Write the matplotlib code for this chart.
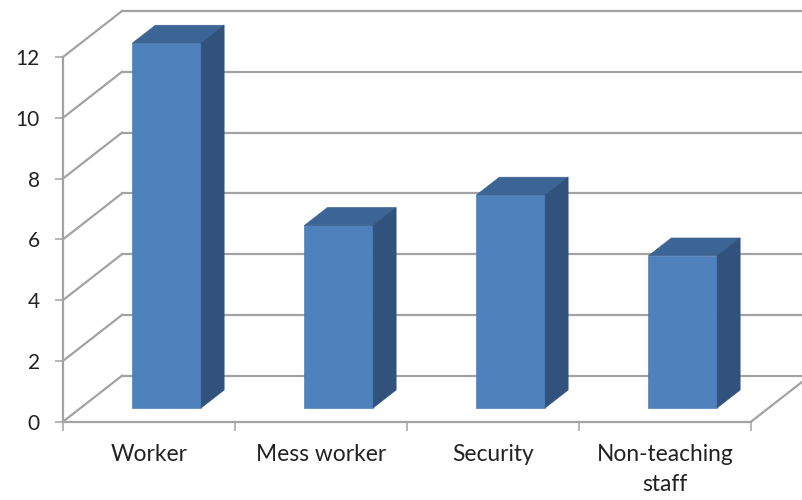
import numpy as np
import matplotlib
matplotlib.use('Agg')
import matplotlib.pyplot as plt
from matplotlib.patches import Polygon

categories = ['Worker', 'Mess worker', 'Security', 'Non-teaching\nstaff']
values = [12, 6, 7, 5]
y_ticks = [0, 2, 4, 6, 8, 10, 12]

plt.rcParams['font.family'] = ['Lato', 'DejaVu Sans']

GRID = '#a3a3a3'
FRONT = '#4f81bd'
TOP = '#3c6494'
SIDE = '#30527c'

# oblique projection: a point at depth z moves right and up
DX = 59 / 172
DY = 46 / 30.4


def project(x, y, z):
    return (x + z * DX, y + z * DY)


fig = plt.figure(figsize=(8.02, 5.0), dpi=100)
ax = fig.add_axes([63 / 802, (500 - 421.7) / 500, 688 / 802, 364.7 / 500])
ax.set_xlim(0, len(categories))
ax.set_ylim(0, 12)

# floor and back wall lines
for v in y_ticks:
    ax.plot(*zip(project(0, v, 0), project(0, v, 1)), color=GRID, lw=1.6, clip_on=False, zorder=1)
    ax.plot(*zip(project(0, v, 1), project(len(categories), v, 1)), color=GRID, lw=1.6, clip_on=False, zorder=1)
ax.plot(*zip(project(len(categories), 0, 0), project(len(categories), 0, 1)), color=GRID, lw=1.6,
        clip_on=False, zorder=1)

# 3d bars
width = 0.4
z0, z1 = 0.302, 0.69
for i, v in enumerate(values):
    l = i + 0.5 - width / 2
    r = i + 0.5 + width / 2
    ax.add_patch(Polygon([project(l, 0, z0), project(r, 0, z0), project(r, v, z0), project(l, v, z0)],
                         fc=FRONT, ec=FRONT, lw=0.5, clip_on=False, zorder=3))
    ax.add_patch(Polygon([project(l, v, z0), project(r, v, z0), project(r, v, z1), project(l, v, z1)],
                         fc=TOP, ec=TOP, lw=0.5, clip_on=False, zorder=3))
    ax.add_patch(Polygon([project(r, 0, z0), project(r, 0, z1), project(r, v, z1), project(r, v, z0)],
                         fc=SIDE, ec=SIDE, lw=0.5, clip_on=False, zorder=3))

for s in ['top', 'right']:
    ax.spines[s].set_visible(False)
for s in ['left', 'bottom']:
    ax.spines[s].set_color(GRID)
    ax.spines[s].set_linewidth(1.6)

ax.set_yticks(y_ticks)
ax.tick_params(axis='y', length=5.8, width=1.1, color=GRID, pad=11, labelsize=15, labelcolor='#222222')
ax.set_xticks(np.arange(len(categories)) + 0.5)
ax.set_xticklabels(categories, linespacing=1.55)
ax.set_xticks(np.arange(len(categories) + 1), minor=True)
ax.tick_params(axis='x', which='major', length=0, pad=16, labelsize=16.4, labelcolor='#222222')
ax.tick_params(axis='x', which='minor', length=6.5, width=1.1, color=GRID)

fig.savefig('out.png', dpi=100)
